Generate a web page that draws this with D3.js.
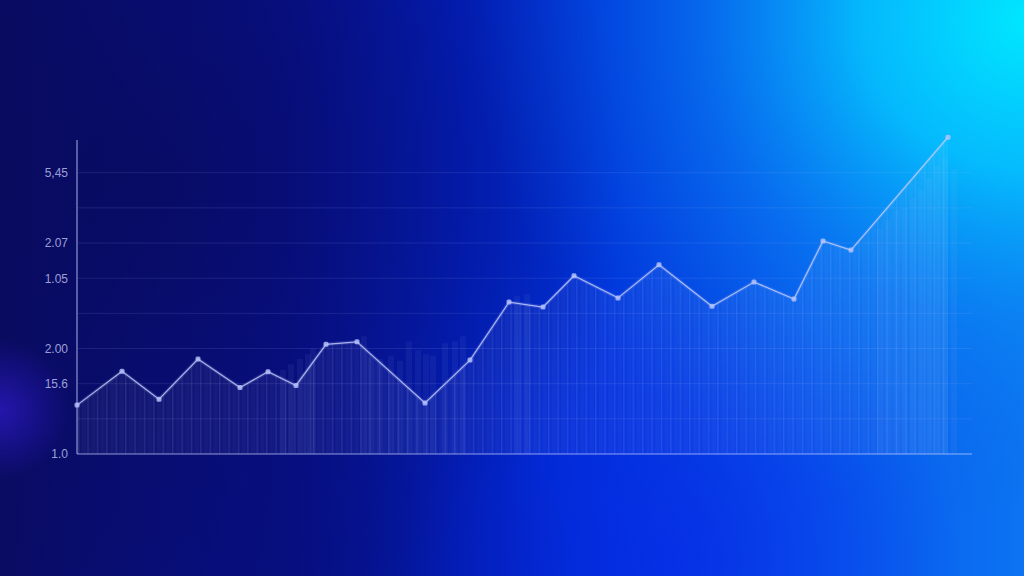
<!DOCTYPE html>
<html>
<head>
<meta charset="utf-8">
<script src="https://cdn.jsdelivr.net/npm/d3@7"></script>
<style>
html,body{margin:0;padding:0;background:#0a0d6a;overflow:hidden;}
svg{display:block;}
</style>
</head>
<body>
<svg id="chart" width="1024" height="576"></svg>
<script>
// ---- data ----
// x positions (arbitrary time units) and values (axis units) of the line
const pointX = [1, 46, 83, 122, 164, 192, 220, 250, 281, 349, 394, 433, 467, 498, 542, 583, 636, 678, 718, 747, 775, 872];
const pointV = [1.39, 2.35, 1.56, 2.70, 1.89, 2.34, 1.95, 3.12, 3.19, 1.45, 2.67, 4.32, 4.18, 5.07, 4.44, 5.38, 4.20, 4.89, 4.41, 6.06, 5.80, 9.01];
// brighter background columns (x position, top value)
const barX = [207, 215, 224, 232, 237, 288, 295, 304, 315, 324, 333, 342, 350, 357, 369, 379, 387, 441, 451, 804, 812, 821, 829, 837, 845, 853, 861, 869, 878];
const barV = [2.40, 2.55, 2.70, 2.85, 3.00, 3.35, 2.75, 2.70, 2.80, 2.65, 3.20, 2.95, 2.85, 2.80, 3.15, 3.20, 3.35, 4.50, 4.55, 6.40, 6.65, 6.95, 7.00, 7.25, 7.50, 7.85, 8.20, 8.40, 8.10];
// y-axis tick positions and their printed labels
const tickPos = [8, 6, 5, 3, 2, 0];
const tickLabels = ["5,45", "2.07", "1.05", "2.00", "15.6", "1.0"];
const gridPos = [1, 2, 3, 4, 5, 6, 7, 8];

const W = 1024, H = 576;
const svg = d3.select("#chart");
const defs = svg.append("defs");

// background gradients
const lg = defs.append("linearGradient").attr("id", "bgLin").attr("x1", 0).attr("y1", 0).attr("x2", 1).attr("y2", 0);
[[0, "#0a0c62"], [0.28, "#07108e"], [0.45, "#0220c0"], [0.6, "#0034dc"], [0.78, "#0752ec"], [1, "#0c74f2"]]
  .forEach(s => lg.append("stop").attr("offset", s[0]).attr("stop-color", s[1]));

const rg1 = defs.append("radialGradient").attr("id", "glowTR").attr("gradientUnits", "userSpaceOnUse")
  .attr("cx", 1030).attr("cy", 20).attr("r", 560)
  .attr("gradientTransform", "translate(1030,20) scale(1,0.9) translate(-1030,-20)");
[[0, "#00e8ff", 1], [0.3, "#04c8ff", 0.85], [0.6, "#0a90f4", 0.45], [1, "#0a60e0", 0]]
  .forEach(s => rg1.append("stop").attr("offset", s[0]).attr("stop-color", s[1]).attr("stop-opacity", s[2]));

const rg2 = defs.append("radialGradient").attr("id", "darkL").attr("gradientUnits", "userSpaceOnUse")
  .attr("cx", 150).attr("cy", 180).attr("r", 480);
[[0, "#080a55", 0.6], [0.6, "#080a60", 0.3], [1, "#080a60", 0]]
  .forEach(s => rg2.append("stop").attr("offset", s[0]).attr("stop-color", s[1]).attr("stop-opacity", s[2]));

const rg3 = defs.append("radialGradient").attr("id", "darkB").attr("gradientUnits", "userSpaceOnUse")
  .attr("cx", 300).attr("cy", 600).attr("r", 280);
[[0, "#060c70", 0.5], [1, "#060c70", 0]]
  .forEach(s => rg3.append("stop").attr("offset", s[0]).attr("stop-color", s[1]).attr("stop-opacity", s[2]));

const rg4 = defs.append("radialGradient").attr("id", "violet").attr("gradientUnits", "userSpaceOnUse")
  .attr("cx", 0).attr("cy", 410).attr("r", 70);
[[0, "#3a1ee8", 0.55], [1, "#3a1ee8", 0]]
  .forEach(s => rg4.append("stop").attr("offset", s[0]).attr("stop-color", s[1]).attr("stop-opacity", s[2]));

const rg5 = defs.append("radialGradient").attr("id", "blueB").attr("gradientUnits", "userSpaceOnUse")
  .attr("cx", 680).attr("cy", 560).attr("r", 280);
[[0, "#0a24e8", 0.55], [1, "#0a24e8", 0]]
  .forEach(s => rg5.append("stop").attr("offset", s[0]).attr("stop-color", s[1]).attr("stop-opacity", s[2]));

svg.append("rect").attr("width", W).attr("height", H).attr("fill", "url(#bgLin)");
svg.append("rect").attr("width", W).attr("height", H).attr("fill", "url(#darkL)");
svg.append("rect").attr("width", W).attr("height", H).attr("fill", "url(#darkB)");
svg.append("rect").attr("width", W).attr("height", H).attr("fill", "url(#blueB)");
svg.append("rect").attr("width", W).attr("height", H).attr("fill", "url(#glowTR)");
svg.append("rect").attr("width", W).attr("height", H).attr("fill", "url(#violet)");

// stripe pattern for area
const pat = defs.append("pattern").attr("id", "stripes").attr("patternUnits", "userSpaceOnUse")
  .attr("width", 9.4).attr("height", 10).attr("x", 78);
pat.append("rect").attr("width", 9.4).attr("height", 10).attr("fill", "#ffffff").attr("fill-opacity", 0.035);
pat.append("rect").attr("x", 0).attr("width", 1.4).attr("height", 10).attr("fill", "#c8d8ff").attr("fill-opacity", 0.12);
pat.append("rect").attr("x", 4).attr("width", 4).attr("height", 10).attr("fill", "#ffffff").attr("fill-opacity", 0.025);

// scales
const x = d3.scaleLinear().domain([0, 896]).range([76, 972]);
const y = d3.scaleLinear().domain([0, 8]).range([454, 172.7]);

const data = pointX.map((d, i) => ({x: d, v: pointV[i]}));
const bars = barX.map((d, i) => ({x: d, v: barV[i]}));

// gridlines
svg.append("g").selectAll("line").data(gridPos).join("line")
  .attr("x1", x(2)).attr("x2", x(896))
  .attr("y1", d => y(d)).attr("y2", d => y(d))
  .attr("stroke", "#a8b8ff").attr("stroke-opacity", 0.13).attr("stroke-width", 1);

// area under line
const area = d3.area().x(d => x(d.x)).y0(y(0)).y1(d => y(d.v));
svg.append("path").datum(data).attr("d", area).attr("fill", "url(#stripes)");

// bright columns
svg.append("g").selectAll("rect").data(bars).join("rect")
  .attr("x", d => x(d.x) - 3).attr("width", 6)
  .attr("y", d => y(d.v)).attr("height", d => y(0) - y(d.v))
  .attr("fill", "#b8c8ff").attr("fill-opacity", 0.06);

// axes
const yAxis = d3.axisLeft(y).tickValues(tickPos).tickSize(0).tickPadding(9)
  .tickFormat((d, i) => tickLabels[i]);
const gy = svg.append("g").attr("transform", `translate(${x(1)},0)`).call(yAxis);
gy.select(".domain").remove();
gy.selectAll("text").attr("fill", "#c4c8f4").attr("fill-opacity", 0.8)
  .style("font-family", "'Liberation Sans', Arial, sans-serif").style("font-size", "12px");

svg.append("line").attr("x1", x(1)).attr("x2", x(1)).attr("y1", 140).attr("y2", y(0))
  .attr("stroke", "#c8d0ff").attr("stroke-opacity", 0.7).attr("stroke-width", 1.2);
const xAxis = d3.axisBottom(x).tickValues([]).tickSizeOuter(0);
const gx = svg.append("g").attr("transform", `translate(0,${y(0)})`).call(xAxis);
gx.select(".domain").attr("d", `M${x(1)},0H${x(896)}`)
  .attr("stroke", "#c8d0ff").attr("stroke-opacity", 0.7).attr("stroke-width", 1.2);

// line
const line = d3.line().x(d => x(d.x)).y(d => y(d.v));
svg.append("path").datum(data).attr("d", line).attr("fill", "none")
  .attr("stroke", "#aab8ff").attr("stroke-opacity", 0.18).attr("stroke-width", 3.5);
svg.append("path").datum(data).attr("d", line).attr("fill", "none")
  .attr("stroke", "#cdd6ff").attr("stroke-opacity", 0.78).attr("stroke-width", 1.2);

svg.append("g").selectAll("rect").data(data).join("rect")
  .attr("x", d => x(d.x) - 2.5).attr("y", d => y(d.v) - 2.5)
  .attr("width", 5).attr("height", 5).attr("rx", 1.5)
  .attr("fill", "#b8c4ff").attr("fill-opacity", 0.8);
</script>
</body>
</html>
